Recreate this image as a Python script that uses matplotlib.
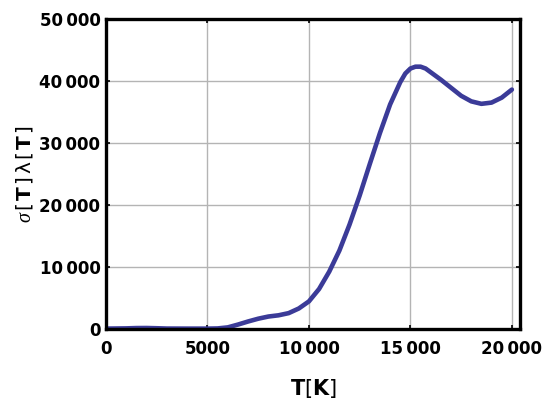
import matplotlib
matplotlib.use("Agg")
import matplotlib.pyplot as plt
from matplotlib.ticker import FuncFormatter

# values
temps = [0, 1000, 1500, 2000, 2500, 3000, 4000, 5000, 5500, 6000, 6500, 7000,
         7500, 8000, 8500, 9000, 9500, 10000, 10500, 11000, 11500, 12000,
         12500, 13000, 13500, 14000, 14500, 14750, 15000, 15250, 15500, 15750,
         16000, 16500, 17000, 17500, 18000, 18500, 19000, 19500, 20000]
sigma_lambda = [0, 40, 90, 100, 60, 10, 0, 0, 30, 200, 650, 1150,
                1600, 1950, 2150, 2500, 3250, 4400, 6400, 9200, 12600, 16800,
                21500, 26600, 31600, 36200, 39800, 41200, 42000, 42300, 42300, 42000,
                41400, 40200, 38900, 37600, 36700, 36300, 36500, 37300, 38600]
xticks = [0, 5000, 10000, 15000, 20000]
yticks = [0, 10000, 20000, 30000, 40000, 50000]

plt.rcParams["font.family"] = ["DejaVu Sans"]
plt.rcParams["mathtext.fontset"] = "custom"
plt.rcParams["mathtext.rm"] = "DejaVu Sans"
plt.rcParams["mathtext.bf"] = "DejaVu Sans:bold"
plt.rcParams["mathtext.it"] = "Liberation Serif:italic"


def thousands(v, pos):
    s = f"{int(round(v)):d}"
    if len(s) > 4:
        s = s[:-3] + "\u2009" + s[-3:]
    return s


fig = plt.figure(figsize=(5.53, 3.99), dpi=100)
ax = fig.add_axes([0.1917, 0.1764, 0.7486, 0.776])

ax.plot(temps, sigma_lambda, color="#3b3b98", lw=3.3,
        solid_capstyle="round", solid_joinstyle="round")

ax.set_xlim(0, 20400)
ax.set_ylim(0, 50000)
ax.set_xticks(xticks)
ax.set_yticks(yticks)
ax.xaxis.set_major_formatter(FuncFormatter(thousands))
ax.yaxis.set_major_formatter(FuncFormatter(thousands))
ax.grid(True, color="#b4b4b4", lw=1.0)
ax.set_axisbelow(True)

for sp in ax.spines.values():
    sp.set_linewidth(2.4)
    sp.set_color("black")

ax.tick_params(direction="in", length=3, width=1.2, top=True, right=True,
               labelsize=12)
ax.tick_params(axis="x", pad=8)
ax.tick_params(axis="y", pad=4)
for lab in ax.get_xticklabels() + ax.get_yticklabels():
    lab.set_fontweight("bold")

ax.set_xlabel(r"$\mathbf{T}\mathrm{[}\mathbf{K}\mathrm{]}$", fontsize=15, labelpad=14)
ax.set_ylabel(r"$\sigma\,\mathrm{[}\,\mathbf{T}\,\mathrm{]}\,\mathrm{\lambda}\,\mathrm{[}\,\mathbf{T}\,\mathrm{]}$",
              fontsize=14.5, labelpad=3)

fig.savefig("out.png", dpi=100)
